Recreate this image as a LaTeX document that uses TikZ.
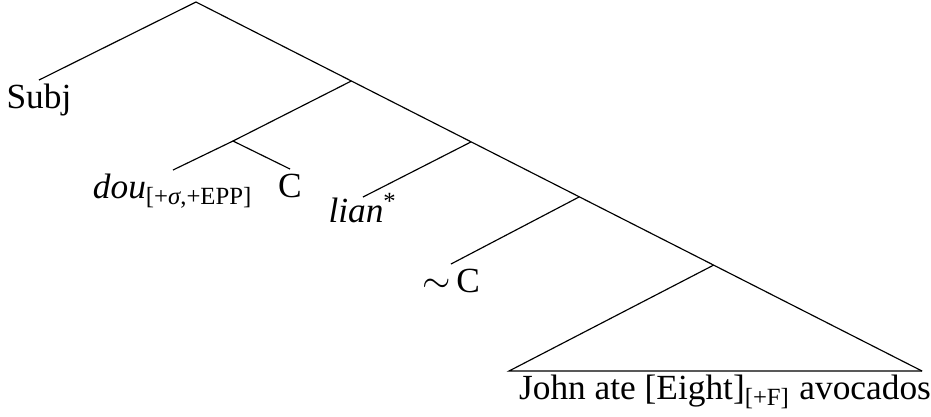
\documentclass[tikz,border=0pt]{standalone}
\usepackage{fontspec}
\setmainfont{Liberation Serif}
\usetikzlibrary{positioning,calc}
\tikzset{
  branch/.style={draw, line width=0.35pt},
  leaf/.style={anchor=north, inner sep=0pt, text height=8.4pt, font=\fontsize{10.6}{12}\selectfont},
}

\begin{document}
\begin{tikzpicture}[x=0.3pt, y=-0.3pt]
    \useasboundingbox (0,0) rectangle (931,416);
    \coordinate (cp) at (196,2);
    \coordinate (roofL) at (509,371);
    \coordinate (roofR) at (922,371);
    \coordinate (cbar) at ($(cp)!0.214!(roofR)$);
    \coordinate (foc) at ($(cp)!0.379!(roofR)$);
    \coordinate (neg) at ($(cp)!0.528!(roofR)$);
    \coordinate (vp) at ($(cp)!0.713!(roofR)$);
    \coordinate (cz) at (233,141);
    \node[leaf] (subj) at (39,80) {Subj};
    \node[leaf] (dou) at (173,170) {\textit{dou}\textsubscript{[+\textit{σ},+EPP]}};
    \node[leaf] (c) at (290,169) {C};
    \node[leaf, text height=7.4pt] (lian) at (363,197) {\textit{lian}\textsuperscript{*}};
    \node[leaf] (negc) at (451,264) {$\sim$\,C};
    \node[leaf] (john) at (725,371) {John ate [Eight]\textsubscript{[+F]} avocados};
    \draw[branch] (cp) -- (subj.north);
    \draw[branch] (cp) -- (roofR);
    \draw[branch] (cbar) -- (cz);
    \draw[branch] (cz) -- (dou.north);
    \draw[branch] (cz) -- (c.north);
    \draw[branch] (foc) -- (lian.north);
    \draw[branch] (neg) -- (negc.north);
    \draw[branch] (vp) -- (roofL) -- (roofR);
\end{tikzpicture}
\end{document}
